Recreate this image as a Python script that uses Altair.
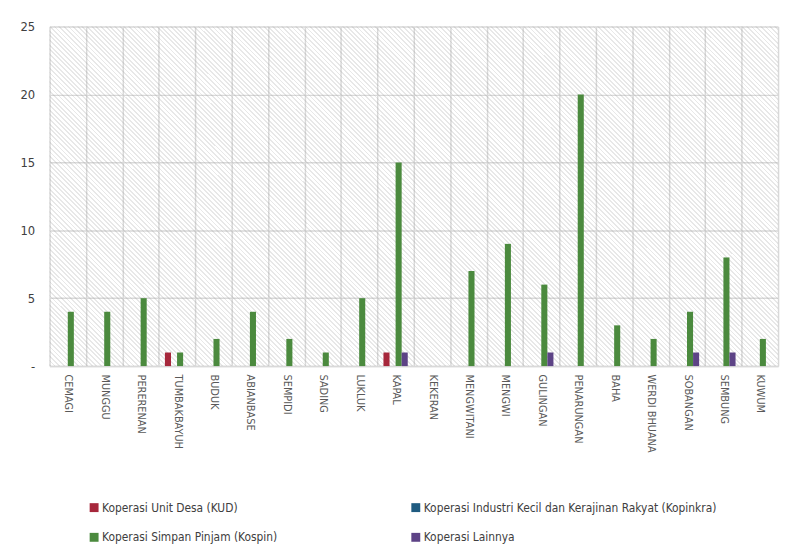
import altair as alt
import pandas as pd

categories = ["CEMAGI", "MUNGGU", "PERERENAN", "TUMBAKBAYUH", "BUDUK", "ABIANBASE",
              "SEMPIDI", "SADING", "LUKLUK", "KAPAL", "KEKERAN", "MENGWITANI", "MENGWI",
              "GULINGAN", "PENARUNGAN", "BAHA", "WERDI BHUANA", "SOBANGAN", "SEMBUNG", "KUWUM"]
series = ["Koperasi Unit Desa (KUD)",
          "Koperasi Industri Kecil dan Kerajinan Rakyat (Kopinkra)",
          "Koperasi Simpan Pinjam (Kospin)",
          "Koperasi Lainnya"]
kud      = [0, 0, 0, 1, 0, 0, 0, 0, 0, 1, 0, 0, 0, 0, 0, 0, 0, 0, 0, 0]
kopinkra = [0, 0, 0, 0, 0, 0, 0, 0, 0, 0, 0, 0, 0, 0, 0, 0, 0, 0, 0, 0]
kospin   = [4, 4, 5, 1, 2, 4, 2, 1, 5, 15, 0, 7, 9, 6, 20, 3, 2, 4, 8, 2]
lainnya  = [0, 0, 0, 0, 0, 0, 0, 0, 0, 1, 0, 0, 0, 1, 0, 0, 0, 1, 1, 0]
colors = ["#a6273b", "#1f5b80", "#4b8a3e", "#5d4386"]
y_ticks = [0, 5, 10, 15, 20, 25]
legend_order = [series[0], series[2], series[1], series[3]]

rows = []
for s, vals in zip(series, [kud, kopinkra, kospin, lainnya]):
    for c, v in zip(categories, vals):
        rows.append({"Desa": c, "Jenis": s, "Jumlah": v})
df = pd.DataFrame(rows)

FONT = "Liberation Sans Narrow, DejaVu Sans Condensed, sans-serif"

# diagonal hatch texture for the plot background (decorative)
n_stripes = 230
stops = []
for i in range(n_stripes):
    a = i / n_stripes
    w = 0.4 / n_stripes
    b = (i + 1) / n_stripes
    stops += [{"offset": a, "color": "rgba(150,150,150,0.22)"},
              {"offset": a + w, "color": "rgba(150,150,150,0.22)"},
              {"offset": a + w, "color": "rgba(255,255,255,0)"},
              {"offset": b, "color": "rgba(255,255,255,0)"}]
hatch = alt.LinearGradient(gradient="linear", x1=0, y1=1, x2=1.205, y2=0.438, stops=stops)

background = alt.Chart(pd.DataFrame({"bg": [0]})).mark_rect(
    x=0, x2="width", y=0, y2="height", fill=hatch, strokeWidth=0
).encode(opacity=alt.value(1))

bars = alt.Chart(df).mark_bar().encode(
    x=alt.X("Desa:N", sort=categories, title=None,
            scale=alt.Scale(paddingInner=0, paddingOuter=0),
            axis=alt.Axis(labelAngle=90, tickBand="extent", ticks=False,
                          grid=True, gridColor="#d9d9d9", gridWidth=1.5,
                          domainColor="#d9d9d9", domainWidth=1.5,
                          labelFont=FONT, labelFontSize=11, labelColor="#595959",
                          labelPadding=8, labelLimit=200)),
    xOffset=alt.XOffset("Jenis:N", sort=series,
                        scale=alt.Scale(paddingInner=0, paddingOuter=1)),
    y=alt.Y("Jumlah:Q", title=None,
            scale=alt.Scale(domain=[0, 25], nice=False),
            axis=alt.Axis(values=y_ticks, ticks=False, domain=False,
                          grid=True, gridColor="#d9d9d9", gridWidth=1.5,
                          labelExpr="datum.value == 0 ? '-' : datum.label",
                          labelFont=FONT, labelFontSize=13, labelColor="#404040",
                          labelPadding=15)),
    color=alt.Color("Jenis:N", sort=series,
                    scale=alt.Scale(domain=series, range=colors),
                    legend=alt.Legend(title=None, orient="none", legendX=39, legendY=480,
                                      values=legend_order,
                                      columns=2, columnPadding=133, rowPadding=18,
                                      symbolType="square", symbolSize=81,
                                      symbolStrokeWidth=0, symbolOffset=0,
                                      labelFont=FONT, labelFontSize=12,
                                      labelColor="#404040", labelOffset=2,
                                      labelLimit=400, padding=0)),
)

chart = alt.layer(background, bars).properties(
    width=736, height=343,
    autosize=alt.AutoSizeParams(type="none"),
    padding={"left": 42, "top": 16, "right": 5, "bottom": 180},
).configure_view(
    stroke=None
)

chart.save("out.html", embed_options={"renderer": "svg", "actions": False})
